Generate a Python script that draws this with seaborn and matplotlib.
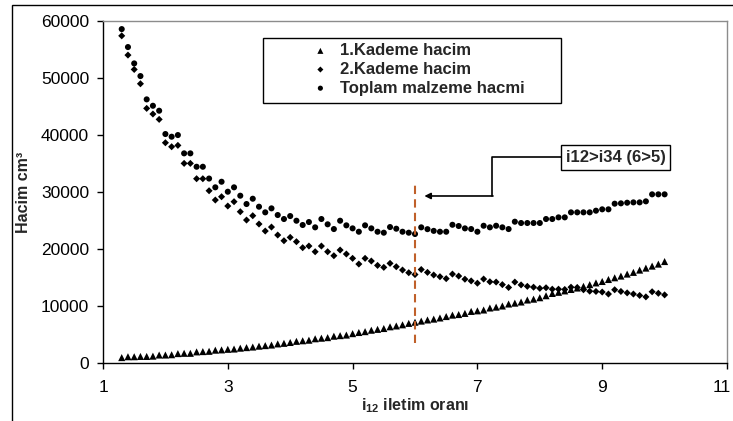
import matplotlib
matplotlib.use("Agg")
import matplotlib.pyplot as plt
import matplotlib.transforms as mtransforms
from matplotlib.patches import Rectangle
import seaborn as sns
import pandas as pd

# i12 transmission ratio (x axis)
i12 = [1.3, 1.4, 1.5, 1.6, 1.7, 1.8, 1.9, 2.0, 2.1, 2.2,
       2.3, 2.4, 2.5, 2.6, 2.7, 2.8, 2.9, 3.0, 3.1, 3.2,
       3.3, 3.4, 3.5, 3.6, 3.7, 3.8, 3.9, 4.0, 4.1, 4.2,
       4.3, 4.4, 4.5, 4.6, 4.7, 4.8, 4.9, 5.0, 5.1, 5.2,
       5.3, 5.4, 5.5, 5.6, 5.7, 5.8, 5.9, 6.0, 6.1, 6.2,
       6.3, 6.4, 6.5, 6.6, 6.7, 6.8, 6.9, 7.0, 7.1, 7.2,
       7.3, 7.4, 7.5, 7.6, 7.7, 7.8, 7.9, 8.0, 8.1, 8.2,
       8.3, 8.4, 8.5, 8.6, 8.7, 8.8, 8.9, 9.0, 9.1, 9.2,
       9.3, 9.4, 9.5, 9.6, 9.7, 9.8, 9.9, 10.0]

# Volume of the first stage (cm3)
kademe1 = [950, 1100, 1100, 1150, 1150, 1200, 1400, 1400, 1450, 1650,
           1700, 1700, 1950, 2000, 2050, 2250, 2300, 2400, 2450, 2600,
           2700, 2800, 2950, 3050, 3150, 3350, 3450, 3600, 3800, 3900,
           4000, 4250, 4350, 4450, 4700, 4800, 4900, 5150, 5350, 5500,
           5750, 5900, 6050, 6350, 6500, 6700, 6950, 7150, 7350, 7550,
           7700, 7900, 8150, 8400, 8500, 8700, 9050, 9150, 9300, 9650,
           9800, 10000, 10350, 10500, 10700, 11050, 11200, 11450, 11800, 12200,
           12400, 12650, 12900, 13150, 13450, 13750, 14050, 14300, 14650, 14950,
           15250, 15600, 15900, 16300, 16650, 17000, 17350, 17800]

# Volume of the second stage (cm3)
kademe2 = [57400, 54020, 51500, 48990, 44670, 43680, 42740, 38640, 37940, 38180,
           35020, 35020, 32330, 32330, 30220, 28590, 29170, 27540, 28300, 26540,
           25080, 25840, 24380, 23150, 23850, 22450, 21450, 22040, 21280, 20230,
           20520, 19520, 20520, 19520, 18820, 19820, 19120, 18360, 17360, 18360,
           17890, 17120, 16780, 17480, 16890, 16310, 15840, 15520, 16400, 15900,
           15440, 15140, 14800, 15600, 15250, 14700, 14400, 14000, 14730, 14250,
           14200, 13750, 13250, 14200, 13700, 13450, 13300, 13100, 13200, 12950,
           12950, 12900, 13300, 13250, 12850, 12600, 12550, 12450, 12100, 12850,
           12550, 12300, 12100, 11850, 11600, 12500, 12230, 11950]

# Total material volume (cm3)
toplam = [58580, 55430, 52560, 50340, 46250, 45130, 44260, 40170, 39700, 39990,
          36780, 36780, 34430, 34430, 32360, 30820, 31800, 30050, 30820, 29350,
          27890, 28820, 27420, 26430, 27130, 25960, 25260, 25780, 24960, 24210,
          24730, 23800, 25260, 24330, 23500, 24960, 24150, 23620, 23030, 24150,
          23620, 23030, 22860, 23850, 23560, 23030, 22860, 22630, 23800, 23480,
          23180, 23030, 23030, 24250, 24030, 23620, 23500, 23030, 24080, 23800,
          24080, 23800, 23500, 24790, 24560, 24560, 24560, 24560, 25260, 25260,
          25550, 25550, 26430, 26430, 26430, 26430, 26720, 26960, 26960, 27950,
          28010, 28120, 28180, 28180, 28360, 29590, 29590, 29590]

series_labels = ["1.Kademe hacim", "2.Kademe hacim", "Toplam malzeme hacmi"]
x_ticks = [1, 3, 5, 7, 9, 11]
y_ticks = [0, 10000, 20000, 30000, 40000, 50000, 60000]
secim_i12 = 6
not_metni = "i12>i34 (6>5)"

df = pd.DataFrame({"i12": i12, "k1": kademe1, "k2": kademe2, "top": toplam})

sns.set_style("white")
plt.rcParams["font.family"] = ["Liberation Sans", "DejaVu Sans"]
plt.rcParams["mathtext.fontset"] = "custom"
plt.rcParams["mathtext.rm"] = "Liberation Sans"
plt.rcParams["mathtext.bf"] = "Liberation Sans:bold"

W, H = 733, 421
fig = plt.figure(figsize=(W / 100, H / 100), dpi=100)
fig.patch.set_facecolor("white")
ax = fig.add_axes([103 / W, 58 / H, 624 / W, 342 / H])

# outer chart frame
fig.patches.append(Rectangle((12 / W, -0.05), 1.1, 0.05 + 416 / H,
                             transform=fig.transFigure, fill=False,
                             edgecolor="black", linewidth=1.0, zorder=0))

sns.scatterplot(data=df, x="i12", y="k1", marker="^", s=26, color="black",
                edgecolor="none", linewidth=0, label=series_labels[0], ax=ax)
sns.scatterplot(data=df, x="i12", y="k2", marker="D", s=13, color="black",
                edgecolor="none", linewidth=0, label=series_labels[1], ax=ax)
sns.scatterplot(data=df, x="i12", y="top", marker="o", s=19, color="black",
                edgecolor="none", linewidth=0, label=series_labels[2], ax=ax)

ax.set_xlim(1, 11)
ax.set_ylim(0, 60000)
ax.set_xticks(x_ticks)
ax.set_yticks(y_ticks)
ax.set_xticklabels([str(t) for t in x_ticks])
ax.set_yticklabels([str(t) for t in y_ticks])
ax.tick_params(axis="both", direction="out", length=4, width=1, color="black",
               labelsize=12.5, labelcolor="black")
ax.tick_params(axis="x", pad=8.5, bottom=True)
ax.tick_params(axis="y", pad=6, left=True)
ax.set_xlabel("")
ax.set_ylabel("")

# keep the last x label inside the figure edge
last = ax.get_xticklabels()[-1]
last.set_horizontalalignment("right")
last.set_transform(last.get_transform() +
                   mtransforms.ScaledTranslation(4 / 100, 0, fig.dpi_scale_trans))

for side in ("left", "bottom"):
    ax.spines[side].set_color("black")
    ax.spines[side].set_linewidth(1.0)
for side in ("top", "right"):
    ax.spines[side].set_color("#8c8c8c")
    ax.spines[side].set_linewidth(1.0)

# selected ratio marker
ax.plot([secim_i12, secim_i12], [3500, 31500], linestyle=(0, (4, 2.5)),
        color="#c0602a", linewidth=1.5, zorder=1)

# legend with its own box
ax.add_patch(Rectangle((0.2564, 0.760), 0.4776, 0.190, transform=ax.transAxes,
                       fill=True, facecolor="white", edgecolor="black",
                       linewidth=1.0, zorder=3))
leg = ax.legend(loc="upper left", bbox_to_anchor=(0.335, 0.935), frameon=False,
                borderpad=0, borderaxespad=0, handlelength=1.0, handletextpad=0.7,
                labelspacing=0.22, markerscale=0.85,
                prop={"weight": "bold", "size": 12})
leg.set_zorder(4)

# annotation box with elbow arrow
ax.text(9.216, 36050, not_metni, ha="center", va="center", fontsize=12,
        fontweight="bold", zorder=4,
        bbox=dict(boxstyle="square,pad=0.28", facecolor="white",
                  edgecolor="black", linewidth=1.0))
ax.plot([8.36, 7.24, 7.24], [36100, 36100, 29300], color="black", linewidth=1.2,
        zorder=3)
ax.annotate("", xy=(6.15, 29300), xytext=(7.25, 29300),
            arrowprops=dict(arrowstyle="-|>", color="black", lw=1.2,
                            mutation_scale=9, shrinkA=0, shrinkB=0), zorder=3)

# axis titles
fig.text(415.5 / W, (H - 410) / H, r"$\mathbf{i_{12}}$ iletim oranı",
         ha="center", va="baseline", fontsize=11.5, fontweight="bold")
fig.text(24 / W, (H - 192) / H, "Hacim cm³", rotation=90, ha="center",
         va="center", fontsize=11.5, fontweight="bold")

fig.savefig("out.png", dpi=100)
